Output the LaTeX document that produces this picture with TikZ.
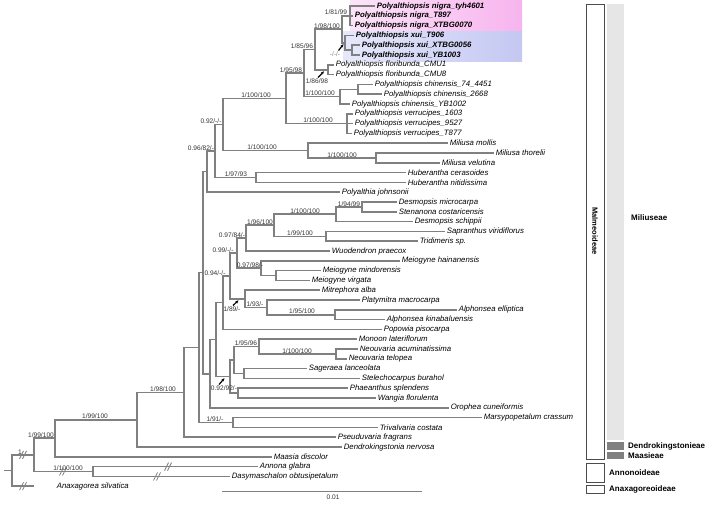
\documentclass[tikz,border=0pt]{standalone}
\usepackage{fontspec}
\setmainfont{Liberation Sans}
\usetikzlibrary{arrows.meta}
\definecolor{brc}{HTML}{808080}
\definecolor{pinkL}{HTML}{FCE4F8}
\definecolor{pinkR}{HTML}{F7B4EE}
\definecolor{blueL}{HTML}{E6E8FA}
\definecolor{blueR}{HTML}{C4C8F2}
\definecolor{lbar}{HTML}{E6E6E6}
\definecolor{dbar}{HTML}{808080}
\definecolor{suptxt}{HTML}{333333}
\newcommand\brkmark[2]{\draw[brk] ({#1-3.5},{#2+4}) -- ({#1+0.5},{#2-4}) ({#1-0.5},{#2+4}) -- ({#1+3.5},{#2-4});}
\begin{document}
\begin{tikzpicture}[x=1pt,y=-1pt,
  br/.style={draw=brc,line width=1.6pt},
  brk/.style={draw=brc,line width=0.8pt},
  leaf/.style={anchor=west,inner sep=1.6pt,font=\fontsize{7.8}{9}\selectfont\itshape},
  bleaf/.style={leaf,font=\fontsize{7.8}{9}\selectfont\bfseries\itshape},
  sup/.style={anchor=south,inner sep=0.6pt,font=\fontsize{6.6}{7}\selectfont,text=suptxt},
  supb/.style={anchor=north,inner sep=0.6pt,font=\fontsize{6.6}{7}\selectfont,text=suptxt},
  ptr/.style={-{Stealth[length=3.2pt,width=2.8pt]},line width=1.2pt,black},
  panel/.style={draw=black!70,line width=0.7pt},
  clade/.style={anchor=west,inner sep=0pt,font=\fontsize{8}{9}\selectfont\bfseries},
]
\useasboundingbox (0,0) rectangle (715,504);
% highlight boxes
\shade[left color=pinkL,right color=pinkR] (350,0) rectangle (522,31);
\shade[left color=blueL,right color=blueR] (343,31) rectangle (522,61.5);
% leaves
\coordinate (L0) at (375,6);
\coordinate (L1) at (353,15.8);
\coordinate (L2) at (353,25.6);
\coordinate (L3) at (354,35.4);
\coordinate (L4) at (360,45.2);
\coordinate (L5) at (360,55);
\coordinate (L6) at (334,64.8);
\coordinate (L7) at (334,74.6);
\coordinate (L8) at (373,84.4);
\coordinate (L9) at (382,94.2);
\coordinate (L10) at (350,104);
\coordinate (L11) at (353,113.8);
\coordinate (L12) at (353,123.6);
\coordinate (L13) at (352,133.4);
\coordinate (L14) at (448,143.2);
\coordinate (L15) at (494,153);
\coordinate (L16) at (440,162.8);
\coordinate (L17) at (406,172.6);
\coordinate (L18) at (406,182.4);
\coordinate (L19) at (340,192.2);
\coordinate (L20) at (397,202);
\coordinate (L21) at (397,211.8);
\coordinate (L22) at (413,221.6);
\coordinate (L23) at (445,231.4);
\coordinate (L24) at (418,241.2);
\coordinate (L25) at (330,251);
\coordinate (L26) at (400,260.8);
\coordinate (L27) at (321,270.6);
\coordinate (L28) at (310,280.4);
\coordinate (L29) at (320,290.2);
\coordinate (L30) at (360,300);
\coordinate (L31) at (457,309.8);
\coordinate (L32) at (385,319.6);
\coordinate (L33) at (382,329.4);
\coordinate (L34) at (357,339.2);
\coordinate (L35) at (358,349);
\coordinate (L36) at (347,358.8);
\coordinate (L37) at (307,368.6);
\coordinate (L38) at (360,378.4);
\coordinate (L39) at (348,388.2);
\coordinate (L40) at (376,398);
\coordinate (L41) at (449,407.8);
\coordinate (L42) at (482,417.6);
\coordinate (L43) at (378,427.4);
\coordinate (L44) at (336,437.2);
\coordinate (L45) at (342,447);
\coordinate (L46) at (272,456.8);
\coordinate (L47) at (258,466.6);
\coordinate (L48) at (230,476.4);
\coordinate (L49) at (34,486.2);
% internal nodes
\coordinate (nig) at (350,15.8);
\coordinate (xs) at (352,50.1);
\coordinate (xui) at (345,42.75);
\coordinate (n198) at (342,29.275);
\coordinate (flo) at (328,69.7);
\coordinate (n185) at (315,49.49);
\coordinate (chs) at (358,89.3);
\coordinate (chi) at (340,96.65);
\coordinate (n195) at (304,73.07);
\coordinate (ver) at (347,123.6);
\coordinate (up) at (286,98.335);
\coordinate (mils) at (376,157.9);
\coordinate (mil) at (308,150.55);
\coordinate (n092) at (223,124.44);
\coordinate (hub) at (256,177.5);
\coordinate (n096) at (215,150.97);
\coordinate (nI) at (207,171.59);
\coordinate (dsm) at (362,206.9);
\coordinate (dsp) at (336,214.25);
\coordinate (sap) at (326,236.3);
\coordinate (n196) at (274,225.275);
\coordinate (n097a) at (246,238.14);
\coordinate (meis) at (276,275.5);
\coordinate (n097b) at (261,268.15);
\coordinate (n099) at (237,253.14);
\coordinate (alp) at (335,314.7);
\coordinate (n193) at (267,307.35);
\coordinate (mit) at (245,298.78);
\coordinate (n094) at (230,275.96);
\coordinate (npo) at (223,302.68);
\coordinate (neo) at (336,353.9);
\coordinate (mon) at (259,346.55);
\coordinate (sag) at (244,373.5);
\coordinate (nM) at (234,360.03);
\coordinate (pha) at (238,393.1);
\coordinate (nL) at (230,376.56);
\coordinate (nK) at (216,339.62);
\coordinate (nJ) at (210,373.71);
\coordinate (nH) at (203,272.65);
\coordinate (mar) at (233,422.5);
\coordinate (nE) at (199,347.58);
\coordinate (nD) at (184,392.39);
\coordinate (nC) at (137,419.7);
\coordinate (nB) at (55,438.25);
\coordinate (ann) at (93,471.5);
\coordinate (nA) at (34,454.88);
\coordinate (root) at (12,470.54);
\coordinate (stub) at (4,470.54);
% branches
\foreach \p/\c in {nig/L0,nig/L1,nig/L2,xs/L4,xs/L5,xui/L3,xui/xs,n198/nig,n198/xui,
  flo/L6,flo/L7,n185/n198,n185/flo,chs/L8,chs/L9,chi/chs,chi/L10,n195/n185,n195/chi,
  ver/L11,ver/L12,ver/L13,up/n195,up/ver,mils/L15,mils/L16,mil/L14,mil/mils,
  n092/up,n092/mil,hub/L17,hub/L18,n096/n092,n096/hub,nI/n096,nI/L19,
  dsm/L20,dsm/L21,dsp/dsm,dsp/L22,sap/L23,sap/L24,n196/dsp,n196/sap,n097a/n196,n097a/L25,
  meis/L27,meis/L28,n097b/L26,n097b/meis,n099/n097a,n099/n097b,alp/L31,alp/L32,
  n193/L30,n193/alp,mit/L29,mit/n193,n094/n099,n094/mit,npo/n094,npo/L33,
  neo/L35,neo/L36,mon/L34,mon/neo,sag/L37,sag/L38,nM/mon,nM/sag,pha/L39,pha/L40,
  nL/nM,nL/pha,nK/npo,nK/nL,nJ/nK,nJ/L41,nH/nI,nH/nJ,mar/L42,mar/L43,nE/nH,nE/mar,
  nD/nE,nD/L44,nC/nD,nC/L45,nB/nC,nB/L46,ann/L47,ann/L48,nA/nB,nA/ann,root/nA,root/L49}
  \draw[br] (\p) |- (\c);
\draw[br] (stub) -- (root);
% break marks
\brkmark{23}{454.88}
\brkmark{23}{486.2}
\brkmark{63}{471.5}
\brkmark{168}{466.6}
\brkmark{157}{476.4}
% leaf labels
\node[bleaf] (tL0) at (L0) {Polyalthiopsis nigra\_tyh4601};
\node[bleaf] (tL1) at (L1) {Polyalthiopsis nigra\_T897};
\node[bleaf] (tL2) at (L2) {Polyalthiopsis nigra\_XTBG0070};
\node[bleaf] (tL3) at (L3) {Polyalthiopsis xui\_T906};
\node[bleaf] (tL4) at (L4) {Polyalthiopsis xui\_XTBG0056};
\node[bleaf] (tL5) at (L5) {Polyalthiopsis xui\_YB1003};
\node[leaf] (tL6) at (L6) {Polyalthiopsis floribunda\_CMU1};
\node[leaf] (tL7) at (L7) {Polyalthiopsis floribunda\_CMU8};
\node[leaf] (tL8) at (L8) {Polyalthiopsis chinensis\_74\_4451};
\node[leaf] (tL9) at (L9) {Polyalthiopsis chinensis\_2668};
\node[leaf] (tL10) at (L10) {Polyalthiopsis chinensis\_YB1002};
\node[leaf] (tL11) at (L11) {Polyalthiopsis verrucipes\_1603};
\node[leaf] (tL12) at (L12) {Polyalthiopsis verrucipes\_9527};
\node[leaf] (tL13) at (L13) {Polyalthiopsis verrucipes\_T877};
\node[leaf] (tL14) at (L14) {Miliusa mollis};
\node[leaf] (tL15) at (L15) {Miliusa thorelii};
\node[leaf] (tL16) at (L16) {Miliusa velutina};
\node[leaf] (tL17) at (L17) {Huberantha cerasoides};
\node[leaf] (tL18) at (L18) {Huberantha nitidissima};
\node[leaf] (tL19) at (L19) {Polyalthia johnsonii};
\node[leaf] (tL20) at (L20) {Desmopsis microcarpa};
\node[leaf] (tL21) at (L21) {Stenanona costaricensis};
\node[leaf] (tL22) at (L22) {Desmopsis schippii};
\node[leaf] (tL23) at (L23) {Sapranthus viridiflorus};
\node[leaf] (tL24) at (L24) {Tridimeris sp.};
\node[leaf] (tL25) at (L25) {Wuodendron praecox};
\node[leaf] (tL26) at (L26) {Meiogyne hainanensis};
\node[leaf] (tL27) at (L27) {Meiogyne mindorensis};
\node[leaf] (tL28) at (L28) {Meiogyne virgata};
\node[leaf] (tL29) at (L29) {Mitrephora alba};
\node[leaf] (tL30) at (L30) {Platymitra macrocarpa};
\node[leaf] (tL31) at (L31) {Alphonsea elliptica};
\node[leaf] (tL32) at (L32) {Alphonsea kinabaluensis};
\node[leaf] (tL33) at (L33) {Popowia pisocarpa};
\node[leaf] (tL34) at (L34) {Monoon lateriflorum};
\node[leaf] (tL35) at (L35) {Neouvaria acuminatissima};
\node[leaf] (tL36) at (L36) {Neouvaria telopea};
\node[leaf] (tL37) at (L37) {Sageraea lanceolata};
\node[leaf] (tL38) at (L38) {Stelechocarpus burahol};
\node[leaf] (tL39) at (L39) {Phaeanthus splendens};
\node[leaf] (tL40) at (L40) {Wangia florulenta};
\node[leaf] (tL41) at (L41) {Orophea cuneiformis};
\node[leaf] (tL42) at (L42) {Marsypopetalum crassum};
\node[leaf] (tL43) at (L43) {Trivalvaria costata};
\node[leaf] (tL44) at (L44) {Pseuduvaria fragrans};
\node[leaf] (tL45) at (L45) {Dendrokingstonia nervosa};
\node[leaf] (tL46) at (L46) {Maasia discolor};
\node[leaf] (tL47) at (L47) {Annona glabra};
\node[leaf] (tL48) at (L48) {Dasymaschalon obtusipetalum};
\node[leaf,xshift=21pt] (tL49) at (L49) {Anaxagorea silvatica};
% support values
\node[sup] (sA) at (20,454.88) {1};
\node[sup] (sB) at (41,438.25) {1/99/100};
\node[sup] (sN) at (68,471.5) {1/100/100};
\node[sup] (sC) at (95,419.7) {1/99/100};
\node[sup] (sD) at (163,392.39) {1/98/100};
\node[sup] (smar) at (215,422.5) {1/91/-};
\node[sup] (s096) at (201,150.97) {0.96/82/-};
\node[sup] (s092) at (211,124.44) {0.92/-/-};
\node[sup] (sup1) at (256,98.335) {1/100/100};
\node[sup] (sver) at (318,123.6) {1/100/100};
\node[sup] (s195) at (291,73.07) {1/95/98};
\node[sup] (schi) at (320,96.65) {1/100/100};
\node[sup] (s185) at (302,49.49) {1/85/96};
\node[sup] (s198) at (327,29.275) {1/98/100};
\node[sup] (snig) at (336,15.8) {1/81/99};
\node[sup] (smil) at (262,150.55) {1/100/100};
\node[sup] (smils) at (342,157.9) {1/100/100};
\node[sup] (shub) at (236,177.5) {1/97/93};
\node[sup] (sdsp) at (305,214.25) {1/100/100};
\node[sup] (sdsm) at (349,206.9) {1/94/99};
\node[sup] (s196) at (260,225.275) {1/96/100};
\node[sup] (ssap) at (300,236.3) {1/99/100};
\node[sup] (s097a) at (232,238.14) {0.97/84/-};
\node[sup] (s097b) at (250,268.15) {0.97/98/-};
\node[sup] (s099) at (223,253.14) {0.99/-/-};
\node[sup] (s094) at (215,275.96) {0.94/-/-};
\node[sup] (s193) at (255,307.35) {1/93/-};
\node[sup] (salp) at (302,314.7) {1/95/100};
\node[sup] (smon) at (246,346.55) {1/95/96};
\node[sup] (sneo) at (297,353.9) {1/100/100};
% pointed support values
\coordinate (axui1) at (338.5,50.5); \coordinate (axui2) at (343.5,44.2);
\draw[ptr] (axui1) -- (axui2);
\node[supb,text=black!50] (sxui) at (335,50.5) {-/-/-};
\coordinate (aflo1) at (318,77.5); \coordinate (aflo2) at (324,71.3);
\draw[ptr] (aflo1) -- (aflo2);
\node[supb] (sflo) at (317,77.5) {1/86/98};
\coordinate (amit1) at (233,305.5); \coordinate (amit2) at (238.5,300.3);
\draw[ptr] (amit1) -- (amit2);
\node[supb] (smit) at (232,305.5) {1/89/-};
\coordinate (anL1) at (219,384.5); \coordinate (anL2) at (224.5,378.2);
\draw[ptr] (anL1) -- (anL2);
\node[supb] (snL) at (224,384.5) {0.92/92/-};
% scale bar
\coordinate (sb1) at (222,491); \coordinate (sb2) at (422,491);
\draw[draw=brc,line width=0.8pt] (sb1) -- (sb2);
\node[supb] (sbl) at (333,494) {0.01};
% right-hand classification
\draw[panel] (586,4) rectangle (604,459);
\node[rotate=-90,inner sep=0pt,font=\fontsize{7.5}{8}\selectfont\bfseries] (malm) at (595,231) {Malmeoideae};
\fill[lbar] (607,4) rectangle (624,440);
\fill[dbar] (607,442) rectangle (624,449.5);
\fill[dbar] (607,451.5) rectangle (624,459);
\draw[panel] (586,463) rectangle (604,482);
\draw[panel] (586,485) rectangle (604,493);
\node[clade] (cmil) at (631,218) {Miliuseae};
\node[clade] (cden) at (628,446) {Dendrokingstonieae};
\node[clade] (cmaa) at (628,455.5) {Maasieae};
\node[clade] (cann) at (609,473) {Annonoideae};
\node[clade] (cana) at (609,489.5) {Anaxagoreoideae};
\end{tikzpicture}
\end{document}
